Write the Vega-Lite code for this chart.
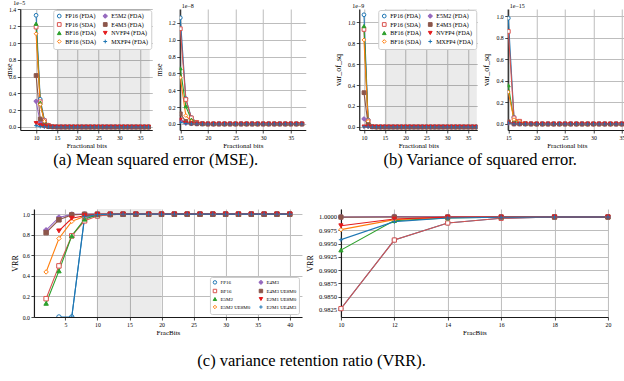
{
"$schema":"https://vega.github.io/schema/vega-lite/v6.json",
"padding":{"left":5,"top":0,"right":0,"bottom":0},
"background":"white",
"config":{
 "view":{"stroke":null},
 "font":"Liberation Serif",
 "axis":{"labelFont":"Liberation Serif","labelFontSize":5.8,"titleFont":"Liberation Serif","titleFontSize":8,"titleFontWeight":"normal","labelColor":"black","titleColor":"black","domainColor":"#1a1a1a","domainWidth":1.2,"tickColor":"#1a1a1a","tickWidth":0.8,"tickSize":3,"labelPadding":1.5,"grid":true,"gridColor":"#bdbdbd","gridOpacity":1,"gridWidth":1,"labelOverlap":false,"labelFlush":false},
 "axisX":{"titlePadding":1,"titleFontSize":7,"grid":true},
 "axisY":{"grid":true},
 "title":{"font":"Liberation Serif","fontWeight":"normal","color":"black"},
 "legend":{"labelFont":"Liberation Serif","labelColor":"black"}
},
"datasets":{
"mse":[
{"s":"FP16 (FDA)","f":10,"v":1.33e-5},{"s":"FP16 (FDA)","f":11,"v":3.3e-6},{"s":"FP16 (FDA)","f":12,"v":8.3e-7},{"s":"FP16 (FDA)","f":13,"v":2.1e-7},{"s":"FP16 (FDA)","f":14,"v":5.2e-8},{"s":"FP16 (FDA)","f":15,"v":1.26e-8},{"s":"FP16 (FDA)","f":16,"v":3e-9},{"s":"FP16 (FDA)","f":17,"v":7.5e-10},{"s":"FP16 (FDA)","f":18,"v":1.9e-10},{"s":"FP16 (FDA)","f":19,"v":5e-11},{"s":"FP16 (FDA)","f":20,"v":0},{"s":"FP16 (FDA)","f":21,"v":0},{"s":"FP16 (FDA)","f":22,"v":0},{"s":"FP16 (FDA)","f":23,"v":0},{"s":"FP16 (FDA)","f":24,"v":0},{"s":"FP16 (FDA)","f":25,"v":0},{"s":"FP16 (FDA)","f":26,"v":0},{"s":"FP16 (FDA)","f":27,"v":0},{"s":"FP16 (FDA)","f":28,"v":0},{"s":"FP16 (FDA)","f":29,"v":0},{"s":"FP16 (FDA)","f":30,"v":0},{"s":"FP16 (FDA)","f":31,"v":0},{"s":"FP16 (FDA)","f":32,"v":0},{"s":"FP16 (FDA)","f":33,"v":0},{"s":"FP16 (FDA)","f":34,"v":0},{"s":"FP16 (FDA)","f":35,"v":0},{"s":"FP16 (FDA)","f":36,"v":0},{"s":"FP16 (FDA)","f":37,"v":0},
{"s":"FP16 (SDA)","f":10,"v":1.19e-5},{"s":"FP16 (SDA)","f":11,"v":3e-6},{"s":"FP16 (SDA)","f":12,"v":7.5e-7},{"s":"FP16 (SDA)","f":13,"v":1.9e-7},{"s":"FP16 (SDA)","f":14,"v":4.6e-8},{"s":"FP16 (SDA)","f":15,"v":1.13e-8},{"s":"FP16 (SDA)","f":16,"v":2.9e-9},{"s":"FP16 (SDA)","f":17,"v":7.2e-10},{"s":"FP16 (SDA)","f":18,"v":1.8e-10},{"s":"FP16 (SDA)","f":19,"v":4.5e-11},{"s":"FP16 (SDA)","f":20,"v":0},{"s":"FP16 (SDA)","f":21,"v":0},{"s":"FP16 (SDA)","f":22,"v":0},{"s":"FP16 (SDA)","f":23,"v":0},{"s":"FP16 (SDA)","f":24,"v":0},{"s":"FP16 (SDA)","f":25,"v":0},{"s":"FP16 (SDA)","f":26,"v":0},{"s":"FP16 (SDA)","f":27,"v":0},{"s":"FP16 (SDA)","f":28,"v":0},{"s":"FP16 (SDA)","f":29,"v":0},{"s":"FP16 (SDA)","f":30,"v":0},{"s":"FP16 (SDA)","f":31,"v":0},{"s":"FP16 (SDA)","f":32,"v":0},{"s":"FP16 (SDA)","f":33,"v":0},{"s":"FP16 (SDA)","f":34,"v":0},{"s":"FP16 (SDA)","f":35,"v":0},{"s":"FP16 (SDA)","f":36,"v":0},{"s":"FP16 (SDA)","f":37,"v":0},
{"s":"BF16 (FDA)","f":10,"v":1.23e-5},{"s":"BF16 (FDA)","f":11,"v":2.9e-6},{"s":"BF16 (FDA)","f":12,"v":6.5e-7},{"s":"BF16 (FDA)","f":13,"v":1.45e-7},{"s":"BF16 (FDA)","f":14,"v":3.1e-8},{"s":"BF16 (FDA)","f":15,"v":6.6e-9},{"s":"BF16 (FDA)","f":16,"v":2.1e-9},{"s":"BF16 (FDA)","f":17,"v":5e-10},{"s":"BF16 (FDA)","f":18,"v":1.3e-10},{"s":"BF16 (FDA)","f":19,"v":3e-11},{"s":"BF16 (FDA)","f":20,"v":0},{"s":"BF16 (FDA)","f":21,"v":0},{"s":"BF16 (FDA)","f":22,"v":0},{"s":"BF16 (FDA)","f":23,"v":0},{"s":"BF16 (FDA)","f":24,"v":0},{"s":"BF16 (FDA)","f":25,"v":0},{"s":"BF16 (FDA)","f":26,"v":0},{"s":"BF16 (FDA)","f":27,"v":0},{"s":"BF16 (FDA)","f":28,"v":0},{"s":"BF16 (FDA)","f":29,"v":0},{"s":"BF16 (FDA)","f":30,"v":0},{"s":"BF16 (FDA)","f":31,"v":0},{"s":"BF16 (FDA)","f":32,"v":0},{"s":"BF16 (FDA)","f":33,"v":0},{"s":"BF16 (FDA)","f":34,"v":0},{"s":"BF16 (FDA)","f":35,"v":0},{"s":"BF16 (FDA)","f":36,"v":0},{"s":"BF16 (FDA)","f":37,"v":0},
{"s":"BF16 (SDA)","f":10,"v":1.11e-5},{"s":"BF16 (SDA)","f":11,"v":2.67e-6},{"s":"BF16 (SDA)","f":12,"v":6.8e-7},{"s":"BF16 (SDA)","f":13,"v":1.2e-7},{"s":"BF16 (SDA)","f":14,"v":2.6e-8},{"s":"BF16 (SDA)","f":15,"v":5.5e-9},{"s":"BF16 (SDA)","f":16,"v":1e-9},{"s":"BF16 (SDA)","f":17,"v":3e-10},{"s":"BF16 (SDA)","f":18,"v":8e-11},{"s":"BF16 (SDA)","f":19,"v":2e-11},{"s":"BF16 (SDA)","f":20,"v":0},{"s":"BF16 (SDA)","f":21,"v":0},{"s":"BF16 (SDA)","f":22,"v":0},{"s":"BF16 (SDA)","f":23,"v":0},{"s":"BF16 (SDA)","f":24,"v":0},{"s":"BF16 (SDA)","f":25,"v":0},{"s":"BF16 (SDA)","f":26,"v":0},{"s":"BF16 (SDA)","f":27,"v":0},{"s":"BF16 (SDA)","f":28,"v":0},{"s":"BF16 (SDA)","f":29,"v":0},{"s":"BF16 (SDA)","f":30,"v":0},{"s":"BF16 (SDA)","f":31,"v":0},{"s":"BF16 (SDA)","f":32,"v":0},{"s":"BF16 (SDA)","f":33,"v":0},{"s":"BF16 (SDA)","f":34,"v":0},{"s":"BF16 (SDA)","f":35,"v":0},{"s":"BF16 (SDA)","f":36,"v":0},{"s":"BF16 (SDA)","f":37,"v":0},
{"s":"E5M2 (FDA)","f":10,"v":3.06e-6},{"s":"E5M2 (FDA)","f":11,"v":5.6e-7},{"s":"E5M2 (FDA)","f":12,"v":1.2e-7},{"s":"E5M2 (FDA)","f":13,"v":2.5e-8},{"s":"E5M2 (FDA)","f":14,"v":5e-9},{"s":"E5M2 (FDA)","f":15,"v":4e-10},{"s":"E5M2 (FDA)","f":16,"v":1e-10},{"s":"E5M2 (FDA)","f":17,"v":3e-11},{"s":"E5M2 (FDA)","f":18,"v":1e-11},{"s":"E5M2 (FDA)","f":19,"v":0},{"s":"E5M2 (FDA)","f":20,"v":0},{"s":"E5M2 (FDA)","f":21,"v":0},{"s":"E5M2 (FDA)","f":22,"v":0},{"s":"E5M2 (FDA)","f":23,"v":0},{"s":"E5M2 (FDA)","f":24,"v":0},{"s":"E5M2 (FDA)","f":25,"v":0},{"s":"E5M2 (FDA)","f":26,"v":0},{"s":"E5M2 (FDA)","f":27,"v":0},{"s":"E5M2 (FDA)","f":28,"v":0},{"s":"E5M2 (FDA)","f":29,"v":0},{"s":"E5M2 (FDA)","f":30,"v":0},{"s":"E5M2 (FDA)","f":31,"v":0},{"s":"E5M2 (FDA)","f":32,"v":0},{"s":"E5M2 (FDA)","f":33,"v":0},{"s":"E5M2 (FDA)","f":34,"v":0},{"s":"E5M2 (FDA)","f":35,"v":0},{"s":"E5M2 (FDA)","f":36,"v":0},{"s":"E5M2 (FDA)","f":37,"v":0},
{"s":"E4M3 (FDA)","f":10,"v":6.13e-6},{"s":"E4M3 (FDA)","f":11,"v":9.5e-7},{"s":"E4M3 (FDA)","f":12,"v":2e-7},{"s":"E4M3 (FDA)","f":13,"v":4e-8},{"s":"E4M3 (FDA)","f":14,"v":8e-9},{"s":"E4M3 (FDA)","f":15,"v":1.2e-9},{"s":"E4M3 (FDA)","f":16,"v":3e-10},{"s":"E4M3 (FDA)","f":17,"v":8e-11},{"s":"E4M3 (FDA)","f":18,"v":2e-11},{"s":"E4M3 (FDA)","f":19,"v":0},{"s":"E4M3 (FDA)","f":20,"v":0},{"s":"E4M3 (FDA)","f":21,"v":0},{"s":"E4M3 (FDA)","f":22,"v":0},{"s":"E4M3 (FDA)","f":23,"v":0},{"s":"E4M3 (FDA)","f":24,"v":0},{"s":"E4M3 (FDA)","f":25,"v":0},{"s":"E4M3 (FDA)","f":26,"v":0},{"s":"E4M3 (FDA)","f":27,"v":0},{"s":"E4M3 (FDA)","f":28,"v":0},{"s":"E4M3 (FDA)","f":29,"v":0},{"s":"E4M3 (FDA)","f":30,"v":0},{"s":"E4M3 (FDA)","f":31,"v":0},{"s":"E4M3 (FDA)","f":32,"v":0},{"s":"E4M3 (FDA)","f":33,"v":0},{"s":"E4M3 (FDA)","f":34,"v":0},{"s":"E4M3 (FDA)","f":35,"v":0},{"s":"E4M3 (FDA)","f":36,"v":0},{"s":"E4M3 (FDA)","f":37,"v":0},
{"s":"NVFP4 (FDA)","f":10,"v":4.5e-7},{"s":"NVFP4 (FDA)","f":11,"v":2e-7},{"s":"NVFP4 (FDA)","f":12,"v":6e-8},{"s":"NVFP4 (FDA)","f":13,"v":1.5e-8},{"s":"NVFP4 (FDA)","f":14,"v":3e-9},{"s":"NVFP4 (FDA)","f":15,"v":5e-10},{"s":"NVFP4 (FDA)","f":16,"v":1e-10},{"s":"NVFP4 (FDA)","f":17,"v":3e-11},{"s":"NVFP4 (FDA)","f":18,"v":1e-11},{"s":"NVFP4 (FDA)","f":19,"v":0},{"s":"NVFP4 (FDA)","f":20,"v":0},{"s":"NVFP4 (FDA)","f":21,"v":0},{"s":"NVFP4 (FDA)","f":22,"v":0},{"s":"NVFP4 (FDA)","f":23,"v":0},{"s":"NVFP4 (FDA)","f":24,"v":0},{"s":"NVFP4 (FDA)","f":25,"v":0},{"s":"NVFP4 (FDA)","f":26,"v":0},{"s":"NVFP4 (FDA)","f":27,"v":0},{"s":"NVFP4 (FDA)","f":28,"v":0},{"s":"NVFP4 (FDA)","f":29,"v":0},{"s":"NVFP4 (FDA)","f":30,"v":0},{"s":"NVFP4 (FDA)","f":31,"v":0},{"s":"NVFP4 (FDA)","f":32,"v":0},{"s":"NVFP4 (FDA)","f":33,"v":0},{"s":"NVFP4 (FDA)","f":34,"v":0},{"s":"NVFP4 (FDA)","f":35,"v":0},{"s":"NVFP4 (FDA)","f":36,"v":0},{"s":"NVFP4 (FDA)","f":37,"v":0},
{"s":"MXFP4 (FDA)","f":10,"v":1.6e-7},{"s":"MXFP4 (FDA)","f":11,"v":5e-8},{"s":"MXFP4 (FDA)","f":12,"v":1.5e-8},{"s":"MXFP4 (FDA)","f":13,"v":4e-9},{"s":"MXFP4 (FDA)","f":14,"v":1e-9},{"s":"MXFP4 (FDA)","f":15,"v":2e-10},{"s":"MXFP4 (FDA)","f":16,"v":5e-11},{"s":"MXFP4 (FDA)","f":17,"v":1e-11},{"s":"MXFP4 (FDA)","f":18,"v":0},{"s":"MXFP4 (FDA)","f":19,"v":0},{"s":"MXFP4 (FDA)","f":20,"v":0},{"s":"MXFP4 (FDA)","f":21,"v":0},{"s":"MXFP4 (FDA)","f":22,"v":0},{"s":"MXFP4 (FDA)","f":23,"v":0},{"s":"MXFP4 (FDA)","f":24,"v":0},{"s":"MXFP4 (FDA)","f":25,"v":0},{"s":"MXFP4 (FDA)","f":26,"v":0},{"s":"MXFP4 (FDA)","f":27,"v":0},{"s":"MXFP4 (FDA)","f":28,"v":0},{"s":"MXFP4 (FDA)","f":29,"v":0},{"s":"MXFP4 (FDA)","f":30,"v":0},{"s":"MXFP4 (FDA)","f":31,"v":0},{"s":"MXFP4 (FDA)","f":32,"v":0},{"s":"MXFP4 (FDA)","f":33,"v":0},{"s":"MXFP4 (FDA)","f":34,"v":0},{"s":"MXFP4 (FDA)","f":35,"v":0},{"s":"MXFP4 (FDA)","f":36,"v":0},{"s":"MXFP4 (FDA)","f":37,"v":0}
],
"var":[
{"s":"FP16 (FDA)","f":10,"v":1.07e-9},{"s":"FP16 (FDA)","f":11,"v":6.7e-11},{"s":"FP16 (FDA)","f":12,"v":4.2e-12},{"s":"FP16 (FDA)","f":13,"v":2.6e-13},{"s":"FP16 (FDA)","f":14,"v":1.6e-14},{"s":"FP16 (FDA)","f":15,"v":9.8e-16},{"s":"FP16 (FDA)","f":16,"v":6e-17},{"s":"FP16 (FDA)","f":17,"v":4e-18},{"s":"FP16 (FDA)","f":18,"v":2.5e-19},{"s":"FP16 (FDA)","f":19,"v":0},{"s":"FP16 (FDA)","f":20,"v":0},{"s":"FP16 (FDA)","f":21,"v":0},{"s":"FP16 (FDA)","f":22,"v":0},{"s":"FP16 (FDA)","f":23,"v":0},{"s":"FP16 (FDA)","f":24,"v":0},{"s":"FP16 (FDA)","f":25,"v":0},{"s":"FP16 (FDA)","f":26,"v":0},{"s":"FP16 (FDA)","f":27,"v":0},{"s":"FP16 (FDA)","f":28,"v":0},{"s":"FP16 (FDA)","f":29,"v":0},{"s":"FP16 (FDA)","f":30,"v":0},{"s":"FP16 (FDA)","f":31,"v":0},{"s":"FP16 (FDA)","f":32,"v":0},{"s":"FP16 (FDA)","f":33,"v":0},{"s":"FP16 (FDA)","f":34,"v":0},{"s":"FP16 (FDA)","f":35,"v":0},{"s":"FP16 (FDA)","f":36,"v":0},{"s":"FP16 (FDA)","f":37,"v":0},
{"s":"FP16 (SDA)","f":10,"v":9.3e-10},{"s":"FP16 (SDA)","f":11,"v":5.8e-11},{"s":"FP16 (SDA)","f":12,"v":3.6e-12},{"s":"FP16 (SDA)","f":13,"v":2.3e-13},{"s":"FP16 (SDA)","f":14,"v":1.4e-14},{"s":"FP16 (SDA)","f":15,"v":8.57e-16},{"s":"FP16 (SDA)","f":16,"v":5.6e-17},{"s":"FP16 (SDA)","f":17,"v":2.5e-17},{"s":"FP16 (SDA)","f":18,"v":5e-18},{"s":"FP16 (SDA)","f":19,"v":1e-18},{"s":"FP16 (SDA)","f":20,"v":0},{"s":"FP16 (SDA)","f":21,"v":0},{"s":"FP16 (SDA)","f":22,"v":0},{"s":"FP16 (SDA)","f":23,"v":0},{"s":"FP16 (SDA)","f":24,"v":0},{"s":"FP16 (SDA)","f":25,"v":0},{"s":"FP16 (SDA)","f":26,"v":0},{"s":"FP16 (SDA)","f":27,"v":0},{"s":"FP16 (SDA)","f":28,"v":0},{"s":"FP16 (SDA)","f":29,"v":0},{"s":"FP16 (SDA)","f":30,"v":0},{"s":"FP16 (SDA)","f":31,"v":0},{"s":"FP16 (SDA)","f":32,"v":0},{"s":"FP16 (SDA)","f":33,"v":0},{"s":"FP16 (SDA)","f":34,"v":0},{"s":"FP16 (SDA)","f":35,"v":0},{"s":"FP16 (SDA)","f":36,"v":0},{"s":"FP16 (SDA)","f":37,"v":0},
{"s":"BF16 (FDA)","f":10,"v":9.62e-10},{"s":"BF16 (FDA)","f":11,"v":5e-11},{"s":"BF16 (FDA)","f":12,"v":2.7e-12},{"s":"BF16 (FDA)","f":13,"v":1.4e-13},{"s":"BF16 (FDA)","f":14,"v":7e-15},{"s":"BF16 (FDA)","f":15,"v":3.58e-16},{"s":"BF16 (FDA)","f":16,"v":3e-17},{"s":"BF16 (FDA)","f":17,"v":5e-18},{"s":"BF16 (FDA)","f":18,"v":1e-18},{"s":"BF16 (FDA)","f":19,"v":0},{"s":"BF16 (FDA)","f":20,"v":0},{"s":"BF16 (FDA)","f":21,"v":0},{"s":"BF16 (FDA)","f":22,"v":0},{"s":"BF16 (FDA)","f":23,"v":0},{"s":"BF16 (FDA)","f":24,"v":0},{"s":"BF16 (FDA)","f":25,"v":0},{"s":"BF16 (FDA)","f":26,"v":0},{"s":"BF16 (FDA)","f":27,"v":0},{"s":"BF16 (FDA)","f":28,"v":0},{"s":"BF16 (FDA)","f":29,"v":0},{"s":"BF16 (FDA)","f":30,"v":0},{"s":"BF16 (FDA)","f":31,"v":0},{"s":"BF16 (FDA)","f":32,"v":0},{"s":"BF16 (FDA)","f":33,"v":0},{"s":"BF16 (FDA)","f":34,"v":0},{"s":"BF16 (FDA)","f":35,"v":0},{"s":"BF16 (FDA)","f":36,"v":0},{"s":"BF16 (FDA)","f":37,"v":0},
{"s":"BF16 (SDA)","f":10,"v":8.3e-10},{"s":"BF16 (SDA)","f":11,"v":5.4e-11},{"s":"BF16 (SDA)","f":12,"v":3.4e-12},{"s":"BF16 (SDA)","f":13,"v":2e-13},{"s":"BF16 (SDA)","f":14,"v":1.2e-14},{"s":"BF16 (SDA)","f":15,"v":2.96e-16},{"s":"BF16 (SDA)","f":16,"v":4e-17},{"s":"BF16 (SDA)","f":17,"v":2e-17},{"s":"BF16 (SDA)","f":18,"v":5e-18},{"s":"BF16 (SDA)","f":19,"v":0},{"s":"BF16 (SDA)","f":20,"v":0},{"s":"BF16 (SDA)","f":21,"v":0},{"s":"BF16 (SDA)","f":22,"v":0},{"s":"BF16 (SDA)","f":23,"v":0},{"s":"BF16 (SDA)","f":24,"v":0},{"s":"BF16 (SDA)","f":25,"v":0},{"s":"BF16 (SDA)","f":26,"v":0},{"s":"BF16 (SDA)","f":27,"v":0},{"s":"BF16 (SDA)","f":28,"v":0},{"s":"BF16 (SDA)","f":29,"v":0},{"s":"BF16 (SDA)","f":30,"v":0},{"s":"BF16 (SDA)","f":31,"v":0},{"s":"BF16 (SDA)","f":32,"v":0},{"s":"BF16 (SDA)","f":33,"v":0},{"s":"BF16 (SDA)","f":34,"v":0},{"s":"BF16 (SDA)","f":35,"v":0},{"s":"BF16 (SDA)","f":36,"v":0},{"s":"BF16 (SDA)","f":37,"v":0},
{"s":"E5M2 (FDA)","f":10,"v":7.7e-11},{"s":"E5M2 (FDA)","f":11,"v":2e-11},{"s":"E5M2 (FDA)","f":12,"v":1e-12},{"s":"E5M2 (FDA)","f":13,"v":5e-14},{"s":"E5M2 (FDA)","f":14,"v":3e-15},{"s":"E5M2 (FDA)","f":15,"v":1e-17},{"s":"E5M2 (FDA)","f":16,"v":0},{"s":"E5M2 (FDA)","f":17,"v":0},{"s":"E5M2 (FDA)","f":18,"v":0},{"s":"E5M2 (FDA)","f":19,"v":0},{"s":"E5M2 (FDA)","f":20,"v":0},{"s":"E5M2 (FDA)","f":21,"v":0},{"s":"E5M2 (FDA)","f":22,"v":0},{"s":"E5M2 (FDA)","f":23,"v":0},{"s":"E5M2 (FDA)","f":24,"v":0},{"s":"E5M2 (FDA)","f":25,"v":0},{"s":"E5M2 (FDA)","f":26,"v":0},{"s":"E5M2 (FDA)","f":27,"v":0},{"s":"E5M2 (FDA)","f":28,"v":0},{"s":"E5M2 (FDA)","f":29,"v":0},{"s":"E5M2 (FDA)","f":30,"v":0},{"s":"E5M2 (FDA)","f":31,"v":0},{"s":"E5M2 (FDA)","f":32,"v":0},{"s":"E5M2 (FDA)","f":33,"v":0},{"s":"E5M2 (FDA)","f":34,"v":0},{"s":"E5M2 (FDA)","f":35,"v":0},{"s":"E5M2 (FDA)","f":36,"v":0},{"s":"E5M2 (FDA)","f":37,"v":0},
{"s":"E4M3 (FDA)","f":10,"v":3.27e-10},{"s":"E4M3 (FDA)","f":11,"v":2e-11},{"s":"E4M3 (FDA)","f":12,"v":1.2e-12},{"s":"E4M3 (FDA)","f":13,"v":7e-14},{"s":"E4M3 (FDA)","f":14,"v":4e-15},{"s":"E4M3 (FDA)","f":15,"v":2e-17},{"s":"E4M3 (FDA)","f":16,"v":0},{"s":"E4M3 (FDA)","f":17,"v":0},{"s":"E4M3 (FDA)","f":18,"v":0},{"s":"E4M3 (FDA)","f":19,"v":0},{"s":"E4M3 (FDA)","f":20,"v":0},{"s":"E4M3 (FDA)","f":21,"v":0},{"s":"E4M3 (FDA)","f":22,"v":0},{"s":"E4M3 (FDA)","f":23,"v":0},{"s":"E4M3 (FDA)","f":24,"v":0},{"s":"E4M3 (FDA)","f":25,"v":0},{"s":"E4M3 (FDA)","f":26,"v":0},{"s":"E4M3 (FDA)","f":27,"v":0},{"s":"E4M3 (FDA)","f":28,"v":0},{"s":"E4M3 (FDA)","f":29,"v":0},{"s":"E4M3 (FDA)","f":30,"v":0},{"s":"E4M3 (FDA)","f":31,"v":0},{"s":"E4M3 (FDA)","f":32,"v":0},{"s":"E4M3 (FDA)","f":33,"v":0},{"s":"E4M3 (FDA)","f":34,"v":0},{"s":"E4M3 (FDA)","f":35,"v":0},{"s":"E4M3 (FDA)","f":36,"v":0},{"s":"E4M3 (FDA)","f":37,"v":0},
{"s":"NVFP4 (FDA)","f":10,"v":3e-12},{"s":"NVFP4 (FDA)","f":11,"v":1e-12},{"s":"NVFP4 (FDA)","f":12,"v":1e-13},{"s":"NVFP4 (FDA)","f":13,"v":1e-14},{"s":"NVFP4 (FDA)","f":14,"v":1e-15},{"s":"NVFP4 (FDA)","f":15,"v":1e-17},{"s":"NVFP4 (FDA)","f":16,"v":0},{"s":"NVFP4 (FDA)","f":17,"v":0},{"s":"NVFP4 (FDA)","f":18,"v":0},{"s":"NVFP4 (FDA)","f":19,"v":0},{"s":"NVFP4 (FDA)","f":20,"v":0},{"s":"NVFP4 (FDA)","f":21,"v":0},{"s":"NVFP4 (FDA)","f":22,"v":0},{"s":"NVFP4 (FDA)","f":23,"v":0},{"s":"NVFP4 (FDA)","f":24,"v":0},{"s":"NVFP4 (FDA)","f":25,"v":0},{"s":"NVFP4 (FDA)","f":26,"v":0},{"s":"NVFP4 (FDA)","f":27,"v":0},{"s":"NVFP4 (FDA)","f":28,"v":0},{"s":"NVFP4 (FDA)","f":29,"v":0},{"s":"NVFP4 (FDA)","f":30,"v":0},{"s":"NVFP4 (FDA)","f":31,"v":0},{"s":"NVFP4 (FDA)","f":32,"v":0},{"s":"NVFP4 (FDA)","f":33,"v":0},{"s":"NVFP4 (FDA)","f":34,"v":0},{"s":"NVFP4 (FDA)","f":35,"v":0},{"s":"NVFP4 (FDA)","f":36,"v":0},{"s":"NVFP4 (FDA)","f":37,"v":0},
{"s":"MXFP4 (FDA)","f":10,"v":1e-12},{"s":"MXFP4 (FDA)","f":11,"v":3e-13},{"s":"MXFP4 (FDA)","f":12,"v":3e-14},{"s":"MXFP4 (FDA)","f":13,"v":3e-15},{"s":"MXFP4 (FDA)","f":14,"v":3e-16},{"s":"MXFP4 (FDA)","f":15,"v":1e-17},{"s":"MXFP4 (FDA)","f":16,"v":0},{"s":"MXFP4 (FDA)","f":17,"v":0},{"s":"MXFP4 (FDA)","f":18,"v":0},{"s":"MXFP4 (FDA)","f":19,"v":0},{"s":"MXFP4 (FDA)","f":20,"v":0},{"s":"MXFP4 (FDA)","f":21,"v":0},{"s":"MXFP4 (FDA)","f":22,"v":0},{"s":"MXFP4 (FDA)","f":23,"v":0},{"s":"MXFP4 (FDA)","f":24,"v":0},{"s":"MXFP4 (FDA)","f":25,"v":0},{"s":"MXFP4 (FDA)","f":26,"v":0},{"s":"MXFP4 (FDA)","f":27,"v":0},{"s":"MXFP4 (FDA)","f":28,"v":0},{"s":"MXFP4 (FDA)","f":29,"v":0},{"s":"MXFP4 (FDA)","f":30,"v":0},{"s":"MXFP4 (FDA)","f":31,"v":0},{"s":"MXFP4 (FDA)","f":32,"v":0},{"s":"MXFP4 (FDA)","f":33,"v":0},{"s":"MXFP4 (FDA)","f":34,"v":0},{"s":"MXFP4 (FDA)","f":35,"v":0},{"s":"MXFP4 (FDA)","f":36,"v":0},{"s":"MXFP4 (FDA)","f":37,"v":0}
],
"vrr":[
{"s":"FP16","f":4,"v":0},{"s":"FP16","f":6,"v":0},{"s":"FP16","f":8,"v":0.968},{"s":"FP16","f":10,"v":0.98275},{"s":"FP16","f":12,"v":0.99566},{"s":"FP16","f":14,"v":0.99887},{"s":"FP16","f":16,"v":0.99975},{"s":"FP16","f":18,"v":0.99999},{"s":"FP16","f":20,"v":1},{"s":"FP16","f":22,"v":1},{"s":"FP16","f":24,"v":1},{"s":"FP16","f":26,"v":1},{"s":"FP16","f":28,"v":1},{"s":"FP16","f":30,"v":1},{"s":"FP16","f":32,"v":1},{"s":"FP16","f":34,"v":1},{"s":"FP16","f":36,"v":1},{"s":"FP16","f":38,"v":1},{"s":"FP16","f":40,"v":1},
{"s":"BF16","f":2,"v":0.178},{"s":"BF16","f":4,"v":0.497},{"s":"BF16","f":6,"v":0.789},{"s":"BF16","f":8,"v":0.935},{"s":"BF16","f":10,"v":0.98275},{"s":"BF16","f":12,"v":0.99566},{"s":"BF16","f":14,"v":0.99887},{"s":"BF16","f":16,"v":0.99975},{"s":"BF16","f":18,"v":0.99999},{"s":"BF16","f":20,"v":1},{"s":"BF16","f":22,"v":1},{"s":"BF16","f":24,"v":1},{"s":"BF16","f":26,"v":1},{"s":"BF16","f":28,"v":1},{"s":"BF16","f":30,"v":1},{"s":"BF16","f":32,"v":1},{"s":"BF16","f":34,"v":1},{"s":"BF16","f":36,"v":1},{"s":"BF16","f":38,"v":1},{"s":"BF16","f":40,"v":1},
{"s":"E5M2","f":2,"v":0.133},{"s":"E5M2","f":4,"v":0.448},{"s":"E5M2","f":6,"v":0.789},{"s":"E5M2","f":8,"v":0.951},{"s":"E5M2","f":10,"v":0.99377},{"s":"E5M2","f":12,"v":0.99931},{"s":"E5M2","f":14,"v":0.9998},{"s":"E5M2","f":16,"v":0.99997},{"s":"E5M2","f":18,"v":1},{"s":"E5M2","f":20,"v":1},{"s":"E5M2","f":22,"v":1},{"s":"E5M2","f":24,"v":1},{"s":"E5M2","f":26,"v":1},{"s":"E5M2","f":28,"v":1},{"s":"E5M2","f":30,"v":1},{"s":"E5M2","f":32,"v":1},{"s":"E5M2","f":34,"v":1},{"s":"E5M2","f":36,"v":1},{"s":"E5M2","f":38,"v":1},{"s":"E5M2","f":40,"v":1},
{"s":"E5M2 UE8M0","f":2,"v":0.438},{"s":"E5M2 UE8M0","f":4,"v":0.763},{"s":"E5M2 UE8M0","f":6,"v":0.93},{"s":"E5M2 UE8M0","f":8,"v":0.978},{"s":"E5M2 UE8M0","f":10,"v":0.99761},{"s":"E5M2 UE8M0","f":12,"v":0.9995},{"s":"E5M2 UE8M0","f":14,"v":0.99995},{"s":"E5M2 UE8M0","f":16,"v":1},{"s":"E5M2 UE8M0","f":18,"v":1},{"s":"E5M2 UE8M0","f":20,"v":1},{"s":"E5M2 UE8M0","f":22,"v":1},{"s":"E5M2 UE8M0","f":24,"v":1},{"s":"E5M2 UE8M0","f":26,"v":1},{"s":"E5M2 UE8M0","f":28,"v":1},{"s":"E5M2 UE8M0","f":30,"v":1},{"s":"E5M2 UE8M0","f":32,"v":1},{"s":"E5M2 UE8M0","f":34,"v":1},{"s":"E5M2 UE8M0","f":36,"v":1},{"s":"E5M2 UE8M0","f":38,"v":1},{"s":"E5M2 UE8M0","f":40,"v":1},
{"s":"E4M3","f":2,"v":0.844},{"s":"E4M3","f":4,"v":0.968},{"s":"E4M3","f":6,"v":0.998},{"s":"E4M3","f":8,"v":0.9999},{"s":"E4M3","f":10,"v":1},{"s":"E4M3","f":12,"v":1.0001},{"s":"E4M3","f":14,"v":1.00003},{"s":"E4M3","f":16,"v":1},{"s":"E4M3","f":18,"v":1},{"s":"E4M3","f":20,"v":1},{"s":"E4M3","f":22,"v":1},{"s":"E4M3","f":24,"v":1},{"s":"E4M3","f":26,"v":1},{"s":"E4M3","f":28,"v":1},{"s":"E4M3","f":30,"v":1},{"s":"E4M3","f":32,"v":1},{"s":"E4M3","f":34,"v":1},{"s":"E4M3","f":36,"v":1},{"s":"E4M3","f":38,"v":1},{"s":"E4M3","f":40,"v":1},
{"s":"E4M3 UE8M0","f":2,"v":0.82},{"s":"E4M3 UE8M0","f":4,"v":0.945},{"s":"E4M3 UE8M0","f":6,"v":0.993},{"s":"E4M3 UE8M0","f":8,"v":0.999},{"s":"E4M3 UE8M0","f":10,"v":0.99998},{"s":"E4M3 UE8M0","f":12,"v":1},{"s":"E4M3 UE8M0","f":14,"v":1},{"s":"E4M3 UE8M0","f":16,"v":1},{"s":"E4M3 UE8M0","f":18,"v":1},{"s":"E4M3 UE8M0","f":20,"v":1},{"s":"E4M3 UE8M0","f":22,"v":1},{"s":"E4M3 UE8M0","f":24,"v":1},{"s":"E4M3 UE8M0","f":26,"v":1},{"s":"E4M3 UE8M0","f":28,"v":1},{"s":"E4M3 UE8M0","f":30,"v":1},{"s":"E4M3 UE8M0","f":32,"v":1},{"s":"E4M3 UE8M0","f":34,"v":1},{"s":"E4M3 UE8M0","f":36,"v":1},{"s":"E4M3 UE8M0","f":38,"v":1},{"s":"E4M3 UE8M0","f":40,"v":1},
{"s":"E2M1 UE8M0","f":4,"v":0.837},{"s":"E2M1 UE8M0","f":6,"v":0.96},{"s":"E2M1 UE8M0","f":8,"v":0.985},{"s":"E2M1 UE8M0","f":10,"v":0.99836},{"s":"E2M1 UE8M0","f":12,"v":0.99962},{"s":"E2M1 UE8M0","f":14,"v":0.99998},{"s":"E2M1 UE8M0","f":16,"v":1},{"s":"E2M1 UE8M0","f":18,"v":1},{"s":"E2M1 UE8M0","f":20,"v":1},{"s":"E2M1 UE8M0","f":22,"v":1},{"s":"E2M1 UE8M0","f":24,"v":1},{"s":"E2M1 UE8M0","f":26,"v":1},{"s":"E2M1 UE8M0","f":28,"v":1},{"s":"E2M1 UE8M0","f":30,"v":1},{"s":"E2M1 UE8M0","f":32,"v":1},{"s":"E2M1 UE8M0","f":34,"v":1},{"s":"E2M1 UE8M0","f":36,"v":1},{"s":"E2M1 UE8M0","f":38,"v":1},{"s":"E2M1 UE8M0","f":40,"v":1},
{"s":"E2M1 UE4M3","f":6,"v":0},{"s":"E2M1 UE4M3","f":8,"v":0.975},{"s":"E2M1 UE4M3","f":10,"v":0.99572},{"s":"E2M1 UE4M3","f":12,"v":0.99912},{"s":"E2M1 UE4M3","f":14,"v":0.99981},{"s":"E2M1 UE4M3","f":16,"v":0.99994},{"s":"E2M1 UE4M3","f":18,"v":1},{"s":"E2M1 UE4M3","f":20,"v":1},{"s":"E2M1 UE4M3","f":22,"v":1},{"s":"E2M1 UE4M3","f":24,"v":1},{"s":"E2M1 UE4M3","f":26,"v":1},{"s":"E2M1 UE4M3","f":28,"v":1},{"s":"E2M1 UE4M3","f":30,"v":1},{"s":"E2M1 UE4M3","f":32,"v":1},{"s":"E2M1 UE4M3","f":34,"v":1},{"s":"E2M1 UE4M3","f":36,"v":1},{"s":"E2M1 UE4M3","f":38,"v":1},{"s":"E2M1 UE4M3","f":40,"v":1}
]
},
"center":true,
"spacing":40,
"resolve":{"scale":{"stroke":"independent","fill":"independent","shape":"independent"},"legend":{"stroke":"independent","fill":"independent","shape":"independent"}},
"vconcat":[
{"hconcat":[
 {"title":{"text":"(a) Mean squared error (MSE).","orient":"bottom","font":"Liberation Serif","fontWeight":"normal","fontSize":16.5,"offset":4,"anchor":"middle"},
  "spacing":2.5,
  "resolve":{"scale":{"stroke":"independent","fill":"independent","shape":"independent"},"legend":{"stroke":"independent","fill":"independent","shape":"independent"}},
  "hconcat":[
   {"width":132,"height":121,
    "title":{"text":"1e−5","anchor":"start","frame":"group","font":"Liberation Serif","fontWeight":"normal","fontSize":6,"offset":0,"dx":-7},
    "layer":[
     {"data":{"values":[{"a":15,"b":37.3}]},"mark":{"type":"rect","color":"#000000","opacity":0.08},
      "encoding":{"x":{"field":"a","type":"quantitative","scale":{"domain":[6.2,37.9],"nice":false,"zero":false},"axis":{"values":[10,15,20,25,30,35],"title":"Fractional bits","grid":true}},"x2":{"field":"b"}}},
     {"data":{"name":"mse"},
      "encoding":{
       "x":{"field":"f","type":"quantitative","scale":{"domain":[6.2,37.9],"nice":false,"zero":false},"axis":{"values":[10,15,20,25,30,35],"title":"Fractional bits","grid":true}},
       "y":{"field":"v","type":"quantitative","scale":{"domain":[-3.6e-7,1.405e-5],"nice":false,"zero":false},"axis":{"values":[0,2e-6,4e-6,6e-6,8e-6,1e-5,1.2e-5,1.4e-5],"labelExpr":"format(datum.value*1e5,'.1f')","title":"mse","titlePadding":-5,"grid":true}},
       "stroke":{"field":"s","type":"nominal","scale":{"domain":["FP16 (FDA)","FP16 (SDA)","BF16 (FDA)","BF16 (SDA)","E5M2 (FDA)","E4M3 (FDA)","NVFP4 (FDA)","MXFP4 (FDA)"],"range":["#1f77b4","#d9534f","#2ca02c","#ff7f0e","#9467bd","#8c564b","#e41a1c","#1f77b4"]},"legend":{"title":null,"orient":"top-right","columns":2,"labelFontSize":6,"symbolSize":14,"symbolStrokeWidth":1,"rowPadding":0.5,"columnPadding":5,"padding":3,"offset":1,"fillColor":"white","strokeColor":"#cccccc","cornerRadius":2,"labelOffset":3}}
      },
      "layer":[
       {"mark":{"type":"line","strokeWidth":1.1,"clip":true}},
       {"mark":{"type":"point","size":14,"strokeWidth":1,"opacity":1,"clip":true},
        "encoding":{
         "fill":{"field":"s","type":"nominal","scale":{"domain":["FP16 (FDA)","FP16 (SDA)","BF16 (FDA)","BF16 (SDA)","E5M2 (FDA)","E4M3 (FDA)","NVFP4 (FDA)","MXFP4 (FDA)"],"range":["white","white","#2ca02c","white","#9467bd","#8c564b","#e41a1c","#1f77b4"]},"legend":{"title":null,"orient":"top-right","columns":2,"labelFontSize":6,"symbolSize":14,"symbolStrokeWidth":1,"rowPadding":0.5,"columnPadding":5,"padding":3,"offset":1,"fillColor":"white","strokeColor":"#cccccc","cornerRadius":2,"labelOffset":3}},
         "shape":{"field":"s","type":"nominal","scale":{"domain":["FP16 (FDA)","FP16 (SDA)","BF16 (FDA)","BF16 (SDA)","E5M2 (FDA)","E4M3 (FDA)","NVFP4 (FDA)","MXFP4 (FDA)"],"range":["circle","square","triangle-up","diamond","cross","square","triangle-down","M-1,0H1M0,-1V1"]},"legend":{"title":null,"orient":"top-right","columns":2,"labelFontSize":6,"symbolSize":14,"symbolStrokeWidth":1,"rowPadding":0.5,"columnPadding":5,"padding":3,"offset":1,"fillColor":"white","strokeColor":"#cccccc","cornerRadius":2,"labelOffset":3}}
        }}
      ]}
    ]},
   {"width":126,"height":121,
    "title":{"text":"1e−8","anchor":"start","frame":"group","font":"Liberation Serif","fontWeight":"normal","fontSize":6,"offset":0,"dx":2},
    "layer":[
     {"data":{"name":"mse"},
      "transform":[{"filter":"datum.f >= 15"}],
      "encoding":{
       "x":{"field":"f","type":"quantitative","scale":{"domain":[14.9,37.7],"nice":false,"zero":false},"axis":{"values":[15,20,25,30,35],"title":"Fractional bits","grid":true}},
       "y":{"field":"v","type":"quantitative","scale":{"domain":[-7.2e-10,1.364e-8],"nice":false,"zero":false},"axis":{"values":[0,2e-9,4e-9,6e-9,8e-9,1e-8,1.2e-8],"labelExpr":"format(datum.value*1e8,'.1f')","title":"mse","titlePadding":4.5,"grid":true}},
       "stroke":{"field":"s","type":"nominal","scale":{"domain":["FP16 (FDA)","FP16 (SDA)","BF16 (FDA)","BF16 (SDA)","E5M2 (FDA)","E4M3 (FDA)","NVFP4 (FDA)","MXFP4 (FDA)"],"range":["#1f77b4","#d9534f","#2ca02c","#ff7f0e","#9467bd","#8c564b","#e41a1c","#1f77b4"]},"legend":null}
      },
      "layer":[
       {"mark":{"type":"line","strokeWidth":1.1,"clip":true}},
       {"mark":{"type":"point","size":14,"strokeWidth":1,"opacity":1,"clip":true},
        "encoding":{
         "fill":{"field":"s","type":"nominal","scale":{"domain":["FP16 (FDA)","FP16 (SDA)","BF16 (FDA)","BF16 (SDA)","E5M2 (FDA)","E4M3 (FDA)","NVFP4 (FDA)","MXFP4 (FDA)"],"range":["white","white","#2ca02c","white","#9467bd","#8c564b","#e41a1c","#1f77b4"]},"legend":null},
         "shape":{"field":"s","type":"nominal","scale":{"domain":["FP16 (FDA)","FP16 (SDA)","BF16 (FDA)","BF16 (SDA)","E5M2 (FDA)","E4M3 (FDA)","NVFP4 (FDA)","MXFP4 (FDA)"],"range":["circle","square","triangle-up","diamond","cross","square","triangle-down","M-1,0H1M0,-1V1"]},"legend":null}
        }}
      ]}
    ]}
  ]},
 {"title":{"text":"(b) Variance of squared error.","orient":"bottom","font":"Liberation Serif","fontWeight":"normal","fontSize":16.5,"offset":4,"anchor":"middle"},
  "spacing":4.5,
  "resolve":{"scale":{"stroke":"independent","fill":"independent","shape":"independent"},"legend":{"stroke":"independent","fill":"independent","shape":"independent"}},
  "hconcat":[
   {"width":118,"height":121,
    "title":{"text":"1e−9","anchor":"start","frame":"group","font":"Liberation Serif","fontWeight":"normal","fontSize":6,"offset":0,"dx":-7},
    "layer":[
     {"data":{"values":[{"a":15,"b":37.1}]},"mark":{"type":"rect","color":"#000000","opacity":0.08},
      "encoding":{"x":{"field":"a","type":"quantitative","scale":{"domain":[8.87,37.2],"nice":false,"zero":false},"axis":{"values":[10,15,20,25,30,35],"title":"Fractional bits","grid":true}},"x2":{"field":"b"}}},
     {"data":{"name":"var"},
      "encoding":{
       "x":{"field":"f","type":"quantitative","scale":{"domain":[8.87,37.2],"nice":false,"zero":false},"axis":{"values":[10,15,20,25,30,35],"title":"Fractional bits","grid":true}},
       "y":{"field":"v","type":"quantitative","scale":{"domain":[-2.9e-11,1.125e-9],"nice":false,"zero":false},"axis":{"values":[0,2e-10,4e-10,6e-10,8e-10,1e-9],"labelExpr":"format(datum.value*1e9,'.1f')","title":"var_of_sq","titlePadding":5,"grid":true}},
       "stroke":{"field":"s","type":"nominal","scale":{"domain":["FP16 (FDA)","FP16 (SDA)","BF16 (FDA)","BF16 (SDA)","E5M2 (FDA)","E4M3 (FDA)","NVFP4 (FDA)","MXFP4 (FDA)"],"range":["#1f77b4","#d9534f","#2ca02c","#ff7f0e","#9467bd","#8c564b","#e41a1c","#1f77b4"]},"legend":{"title":null,"orient":"top-right","columns":2,"labelFontSize":6,"symbolSize":14,"symbolStrokeWidth":1,"rowPadding":0.5,"columnPadding":5,"padding":3,"offset":1,"fillColor":"white","strokeColor":"#cccccc","cornerRadius":2,"labelOffset":3}}
      },
      "layer":[
       {"mark":{"type":"line","strokeWidth":1.1,"clip":true}},
       {"mark":{"type":"point","size":14,"strokeWidth":1,"opacity":1,"clip":true},
        "encoding":{
         "fill":{"field":"s","type":"nominal","scale":{"domain":["FP16 (FDA)","FP16 (SDA)","BF16 (FDA)","BF16 (SDA)","E5M2 (FDA)","E4M3 (FDA)","NVFP4 (FDA)","MXFP4 (FDA)"],"range":["white","white","#2ca02c","white","#9467bd","#8c564b","#e41a1c","#1f77b4"]},"legend":{"title":null,"orient":"top-right","columns":2,"labelFontSize":6,"symbolSize":14,"symbolStrokeWidth":1,"rowPadding":0.5,"columnPadding":5,"padding":3,"offset":1,"fillColor":"white","strokeColor":"#cccccc","cornerRadius":2,"labelOffset":3}},
         "shape":{"field":"s","type":"nominal","scale":{"domain":["FP16 (FDA)","FP16 (SDA)","BF16 (FDA)","BF16 (SDA)","E5M2 (FDA)","E4M3 (FDA)","NVFP4 (FDA)","MXFP4 (FDA)"],"range":["circle","square","triangle-up","diamond","cross","square","triangle-down","M-1,0H1M0,-1V1"]},"legend":{"title":null,"orient":"top-right","columns":2,"labelFontSize":6,"symbolSize":14,"symbolStrokeWidth":1,"rowPadding":0.5,"columnPadding":5,"padding":3,"offset":1,"fillColor":"white","strokeColor":"#cccccc","cornerRadius":2,"labelOffset":3}}
        }}
      ]}
    ]},
   {"width":118,"height":121,
    "title":{"text":"1e−15","anchor":"start","frame":"group","font":"Liberation Serif","fontWeight":"normal","fontSize":6,"offset":0,"dx":2},
    "layer":[
     {"data":{"name":"var"},
      "transform":[{"filter":"datum.f >= 15"}],
      "encoding":{
       "x":{"field":"f","type":"quantitative","scale":{"domain":[14.9,35.7],"nice":false,"zero":false},"axis":{"values":[15,20,25,30,35],"title":"Fractional bits","grid":true}},
       "y":{"field":"v","type":"quantitative","scale":{"domain":[-5.6e-17,1.065e-15],"nice":false,"zero":false},"axis":{"values":[0,2e-16,4e-16,6e-16,8e-16,1e-15],"labelExpr":"format(datum.value*1e15,'.1f')","title":"var_of_sq","titlePadding":5.5,"grid":true}},
       "stroke":{"field":"s","type":"nominal","scale":{"domain":["FP16 (FDA)","FP16 (SDA)","BF16 (FDA)","BF16 (SDA)","E5M2 (FDA)","E4M3 (FDA)","NVFP4 (FDA)","MXFP4 (FDA)"],"range":["#1f77b4","#d9534f","#2ca02c","#ff7f0e","#9467bd","#8c564b","#e41a1c","#1f77b4"]},"legend":null}
      },
      "layer":[
       {"mark":{"type":"line","strokeWidth":1.1,"clip":true}},
       {"mark":{"type":"point","size":14,"strokeWidth":1,"opacity":1,"clip":true},
        "encoding":{
         "fill":{"field":"s","type":"nominal","scale":{"domain":["FP16 (FDA)","FP16 (SDA)","BF16 (FDA)","BF16 (SDA)","E5M2 (FDA)","E4M3 (FDA)","NVFP4 (FDA)","MXFP4 (FDA)"],"range":["white","white","#2ca02c","white","#9467bd","#8c564b","#e41a1c","#1f77b4"]},"legend":null},
         "shape":{"field":"s","type":"nominal","scale":{"domain":["FP16 (FDA)","FP16 (SDA)","BF16 (FDA)","BF16 (SDA)","E5M2 (FDA)","E4M3 (FDA)","NVFP4 (FDA)","MXFP4 (FDA)"],"range":["circle","square","triangle-up","diamond","cross","square","triangle-down","M-1,0H1M0,-1V1"]},"legend":null}
        }}
      ]}
    ]}
  ]}
 ],
 "spacing":28,
 "resolve":{"scale":{"stroke":"independent","fill":"independent","shape":"independent"},"legend":{"stroke":"independent","fill":"independent","shape":"independent"}}
},
{"title":{"text":"(c) variance retention ratio (VRR).","orient":"bottom","font":"Liberation Serif","fontWeight":"normal","fontSize":16.5,"offset":18,"anchor":"middle"},
 "spacing":4,
 "resolve":{"scale":{"stroke":"independent","fill":"independent","shape":"independent"},"legend":{"stroke":"independent","fill":"independent","shape":"independent"}},
 "hconcat":[
  {"width":268,"height":108,
   "layer":[
    {"data":{"values":[{"a":10,"b":20}]},"mark":{"type":"rect","color":"#000000","opacity":0.08},
     "encoding":{"x":{"field":"a","type":"quantitative","scale":{"domain":[0.1,41.9],"nice":false,"zero":false},"axis":{"values":[5,10,15,20,25,30,35,40],"title":"FracBits","grid":true}},"x2":{"field":"b"}}},
    {"data":{"name":"vrr"},
     "encoding":{
      "x":{"field":"f","type":"quantitative","scale":{"domain":[0.1,41.9],"nice":false,"zero":false},"axis":{"values":[5,10,15,20,25,30,35,40],"title":"FracBits","grid":true}},
      "y":{"field":"v","type":"quantitative","scale":{"domain":[0,1.05],"nice":false,"zero":false},"axis":{"values":[0,0.2,0.4,0.6,0.8,1.0],"format":".1f","title":"VRR","titlePadding":3,"grid":true}},
      "stroke":{"field":"s","type":"nominal","scale":{"domain":["FP16","BF16","E5M2","E5M2 UE8M0","E4M3","E4M3 UE8M0","E2M1 UE8M0","E2M1 UE4M3"],"range":["#1f77b4","#d9534f","#2ca02c","#ff7f0e","#9467bd","#8c564b","#e41a1c","#1f77b4"]},"legend":{"title":null,"orient":"bottom-right","columns":2,"labelFontSize":5,"symbolSize":12,"symbolStrokeWidth":1,"rowPadding":0,"columnPadding":6,"padding":2.5,"offset":3,"fillColor":"white","strokeColor":"#cccccc","cornerRadius":2,"labelOffset":3}}
     },
     "layer":[
      {"mark":{"type":"line","strokeWidth":1.1,"clip":true}},
      {"mark":{"type":"point","size":20,"strokeWidth":1,"opacity":1,"clip":true},
       "encoding":{
        "fill":{"field":"s","type":"nominal","scale":{"domain":["FP16","BF16","E5M2","E5M2 UE8M0","E4M3","E4M3 UE8M0","E2M1 UE8M0","E2M1 UE4M3"],"range":["white","white","#2ca02c","white","#9467bd","#8c564b","#e41a1c","#1f77b4"]},"legend":{"title":null,"orient":"bottom-right","columns":2,"labelFontSize":5,"symbolSize":12,"symbolStrokeWidth":1,"rowPadding":0,"columnPadding":6,"padding":2.5,"offset":3,"fillColor":"white","strokeColor":"#cccccc","cornerRadius":2,"labelOffset":3}},
        "shape":{"field":"s","type":"nominal","scale":{"domain":["FP16","BF16","E5M2","E5M2 UE8M0","E4M3","E4M3 UE8M0","E2M1 UE8M0","E2M1 UE4M3"],"range":["circle","square","triangle-up","diamond","cross","square","triangle-down","M-1,0H1M0,-1V1"]},"legend":{"title":null,"orient":"bottom-right","columns":2,"labelFontSize":5,"symbolSize":12,"symbolStrokeWidth":1,"rowPadding":0,"columnPadding":6,"padding":2.5,"offset":3,"fillColor":"white","strokeColor":"#cccccc","cornerRadius":2,"labelOffset":3}}
       }}
     ]}
   ]},
  {"width":267,"height":108,
   "layer":[
    {"data":{"name":"vrr"},
     "transform":[{"filter":"datum.f >= 10 && datum.f <= 20"}],
     "encoding":{
      "x":{"field":"f","type":"quantitative","scale":{"domain":[10,20],"nice":false,"zero":false},"axis":{"values":[10,12,14,16,18,20],"title":"FracBits","grid":true}},
      "y":{"field":"v","type":"quantitative","scale":{"domain":[0.98118,1.0015],"nice":false,"zero":false},"axis":{"values":[0.9825,0.985,0.9875,0.99,0.9925,0.995,0.9975,1.0],"format":".4f","labelFontSize":6.5,"title":"VRR","titlePadding":4.5,"grid":true}},
      "stroke":{"field":"s","type":"nominal","scale":{"domain":["FP16","BF16","E5M2","E5M2 UE8M0","E4M3","E4M3 UE8M0","E2M1 UE8M0","E2M1 UE4M3"],"range":["#1f77b4","#d9534f","#2ca02c","#ff7f0e","#9467bd","#8c564b","#e41a1c","#1f77b4"]},"legend":null}
     },
     "layer":[
      {"mark":{"type":"line","strokeWidth":1.1,"clip":true}},
      {"mark":{"type":"point","size":18,"strokeWidth":1,"opacity":1,"clip":false},
       "encoding":{
        "fill":{"field":"s","type":"nominal","scale":{"domain":["FP16","BF16","E5M2","E5M2 UE8M0","E4M3","E4M3 UE8M0","E2M1 UE8M0","E2M1 UE4M3"],"range":["white","white","#2ca02c","white","#9467bd","#8c564b","#e41a1c","#1f77b4"]},"legend":null},
        "shape":{"field":"s","type":"nominal","scale":{"domain":["FP16","BF16","E5M2","E5M2 UE8M0","E4M3","E4M3 UE8M0","E2M1 UE8M0","E2M1 UE4M3"],"range":["circle","square","triangle-up","diamond","cross","square","triangle-down","M-1,0H1M0,-1V1"]},"legend":null}
       }}
     ]}
   ]}
 ]}
]
}
